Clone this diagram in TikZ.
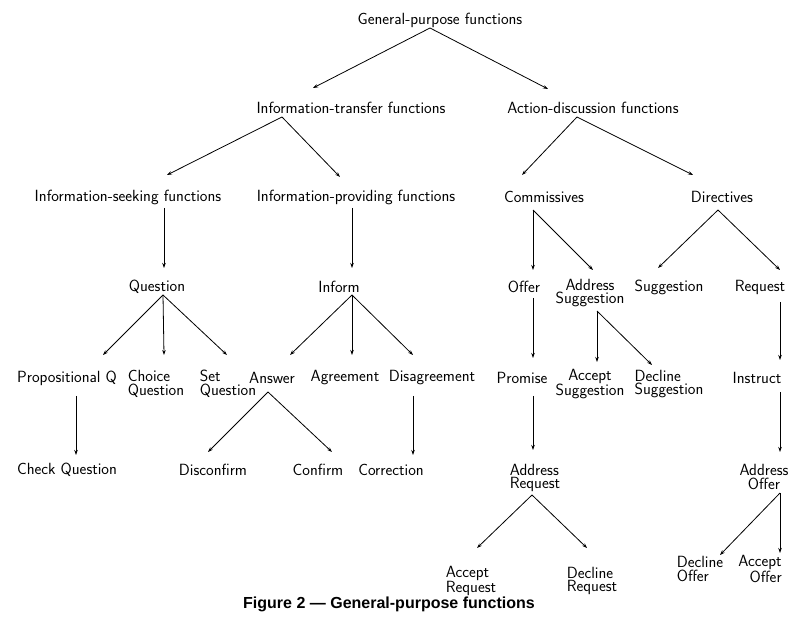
\documentclass[tikz,border=0pt]{standalone}
\usepackage{fontspec}
\newfontfamily\capfont{Liberation Sans}
\usetikzlibrary{arrows.meta,calc}

\tikzset{
  fn/.style={inner sep=0pt, font=\fontsize{16.2}{13.5}\selectfont\sffamily},
  fnl/.style={fn, align=left},
  fnc/.style={fn, align=center},
  fnr/.style={fn, align=right},
  arr/.style={line width=0.8pt, -{Stealth[length=5pt,width=3.5pt]}}
}

\begin{document}
\begin{tikzpicture}[x=1pt,y=-1pt]
    \useasboundingbox (0,0) rectangle (790,617);
    % level 0 and 1
    \node [fn] (gpf) at (440,20) {General-purpose functions};
    \node [fn] (itf) at (351,108) {Information-transfer functions};
    \node [fn] (adf) at (593,108) {Action-discussion functions};
    % level 2
    \node [fn] (isf) at (128,197) {Information-seeking functions};
    \node [fn] (ipf) at (356,197) {Information-providing functions};
    \node [fn] (com) at (544,197) {Commissives};
    \node [fn] (dir) at (722,197) {Directives};
    % level 3
    \node [fn] (que) at (157,287) {Question};
    \node [fn] (inf) at (339,287) {Inform};
    \node [fn] (off) at (524,287) {Offer};
    \node [fnc] (ads) at (590,293) {Address\\Suggestion};
    \node [fn] (sug) at (669,287) {Suggestion};
    \node [fn] (req) at (760,287) {Request};
    % level 4
    \node [fn] (prq) at (67,378) {Propositional Q};
    \node [fnl] (chq) at (156,384) {Choice\\Question};
    \node [fnl] (seq) at (228,384) {Set\\Question};
    \node [fn] (ans) at (272,378) {Answer};
    \node [fn] (agr) at (345,378) {Agreement};
    \node [fn] (dis) at (432,378) {Disagreement};
    \node [fn] (pro) at (522,378) {Promise};
    \node [fnc] (acs) at (590,384) {Accept\\Suggestion};
    \node [fnl] (dcs) at (669,384) {Decline\\Suggestion};
    \node [fn] (ins) at (757,378) {Instruct};
    % level 5
    \node [fn] (ckq) at (67,470) {Check Question};
    \node [fn] (dcf) at (213,470) {Disconfirm};
    \node [fn] (cnf) at (318,470) {Confirm};
    \node [fn] (cor) at (391,470) {Correction};
    \node [fnl] (adr) at (535,478) {Address\\Request};
    \node [fnc] (ado) at (764,477) {Address\\Offer};
    % level 6
    \node [fnl] (acr) at (471,581) {Accept\\Request};
    \node [fnl] (dcr) at (592,581) {Decline\\Request};
    \node [fnl] (dco) at (700,569) {Decline\\Offer};
    \node [fnr] (aco) at (760,569) {Accept\\Offer};
    % caption
    \node [inner sep=0pt, font=\fontsize{16}{18}\selectfont\capfont\bfseries] (cap) at (389,604) {Figure 2 \textemdash{} General-purpose functions};

    % arrows
    \draw [arr] ($(gpf)+(-10,8)$) -- ($(itf)+(-38,-20)$);
    \draw [arr] ($(gpf)+(-10,8)$) -- ($(adf)+(-45,-19)$);
    \draw [arr] ($(itf)+(-69,9)$) -- ($(isf)+(39,-22)$);
    \draw [arr] ($(itf)+(-69,9)$) -- ($(ipf)+(-16,-20)$);
    \draw [arr] ($(adf)+(-16,9)$) -- ($(com)+(-22,-22)$);
    \draw [arr] ($(adf)+(-16,9)$) -- ($(dir)+(-29,-22)$);
    \draw [arr] ($(isf)+(36,11)$) -- ($(que)+(7,-19)$);
    \draw [arr] ($(ipf)+(-4,11)$) -- ($(inf)+(13,-19)$);
    \draw [arr] ($(com)+(-11,13)$) -- ($(off)+(9,-17)$);
    \draw [arr] ($(com)+(-11,13)$) -- ($(ads)+(3,-23)$);
    \draw [arr] ($(dir)+(-4,13)$) -- ($(sug)+(-11,-19)$);
    \draw [arr] ($(dir)+(-4,13)$) -- ($(req)+(20,-17)$);
    \draw [arr] ($(que)+(6,8)$) -- ($(prq)+(36,-23)$);
    \draw [arr] ($(que)+(6,8)$) -- ($(chq)+(8,-29)$);
    \draw [arr] ($(que)+(6,8)$) -- ($(seq)+(-1,-29)$);
    \draw [arr] ($(inf)+(13,8)$) -- ($(ans)+(18,-23)$);
    \draw [arr] ($(inf)+(13,8)$) -- ($(agr)+(7,-23)$);
    \draw [arr] ($(inf)+(13,8)$) -- ($(dis)+(-19,-23)$);
    \draw [arr] ($(off)+(9,11)$) -- ($(pro)+(11,-20)$);
    \draw [arr] ($(ads)+(7,18)$) -- ($(acs)+(7,-22)$);
    \draw [arr] ($(ads)+(7,18)$) -- ($(dcs)+(-17,-19)$);
    \draw [arr] ($(req)+(20,15)$) -- ($(ins)+(23,-18)$);
    \draw [arr] ($(prq)+(9,18)$) -- ($(ckq)+(9,-15)$);
    \draw [arr] ($(ans)+(-4,14)$) -- ($(dcf)+(-5,-18)$);
    \draw [arr] ($(ans)+(-4,14)$) -- ($(cnf)+(14,-18)$);
    \draw [arr] ($(dis)+(-19,18)$) -- ($(cor)+(22,-15)$);
    \draw [arr] ($(pro)+(11,18)$) -- ($(adr)+(-2,-28)$);
    \draw [arr] ($(ins)+(23,14)$) -- ($(ado)+(16,-25)$);
    \draw [arr] ($(adr)+(-3,17)$) -- ($(acr)+(6,-33)$);
    \draw [arr] ($(adr)+(-3,17)$) -- ($(dcr)+(-5,-33)$);
    \draw [arr] ($(ado)+(16,16)$) -- ($(dco)+(20,-14)$);
    \draw [arr] ($(ado)+(16,16)$) -- ($(aco)+(20,-16)$);
\end{tikzpicture}
\end{document}
